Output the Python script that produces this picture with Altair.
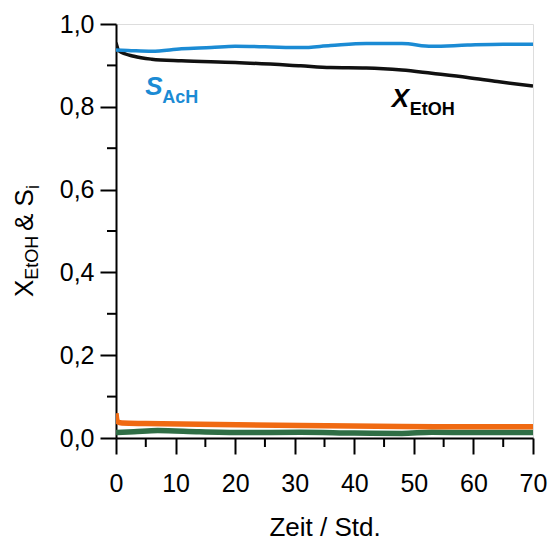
import altair as alt
import pandas as pd

# ---- data ----
t_ach = [0, 2, 6, 11, 16, 20, 25, 31, 36, 42, 48, 53, 59, 65, 70]
s_ach = [0.937, 0.936, 0.934, 0.940, 0.943, 0.946, 0.945, 0.943, 0.948, 0.953, 0.953, 0.946, 0.949, 0.951, 0.951]

t_etoh = [0, 0.5, 3, 6, 11, 20, 31, 36, 42, 48, 53, 59, 64, 70]
x_etoh = [0.955, 0.935, 0.922, 0.915, 0.911, 0.907, 0.899, 0.895, 0.894, 0.889, 0.881, 0.871, 0.861, 0.850]

t_or = [0, 0.2, 1, 5, 14, 31, 48, 60, 70]
s_or = [0.06, 0.04, 0.036, 0.035, 0.033, 0.030, 0.028, 0.027, 0.027]

t_gr = [0, 3, 7, 14, 22, 31, 40, 48, 53, 60, 70]
s_gr = [0.013, 0.015, 0.018, 0.015, 0.013, 0.014, 0.012, 0.011, 0.014, 0.013, 0.013]

x_major = [0, 10, 20, 30, 40, 50, 60, 70]
x_minor = [5, 15, 25, 35, 45, 55, 65]
y_major = [0.0, 0.2, 0.4, 0.6, 0.8, 1.0]
y_minor = [0.1, 0.3, 0.5, 0.7, 0.9]

FONT = "Liberation Sans"
xs = alt.Scale(domain=[0, 70], nice=False, zero=False)
ys = alt.Scale(domain=[0, 1.0], nice=False)

x_axis_major = alt.Axis(
    values=x_major, orient="bottom", title="Zeit / Std.", titleFontSize=26,
    titleFontWeight="normal", titleFont=FONT, titleColor="black", titlePadding=18,
    labelFontSize=25, labelFont=FONT, labelColor="black", labelPadding=17,
    tickSize=16, tickWidth=2, tickColor="black", domainColor="black", domainWidth=2,
    grid=False, labelFlush=False,
)
y_axis_major = alt.Axis(
    values=y_major, orient="left", title=None, format=".1f",
    labelExpr="replace(datum.label, '.', ',')",
    labelFontSize=25, labelFont=FONT, labelColor="black", labelPadding=6,
    tickSize=16, tickWidth=2, tickColor="black", domainColor="black", domainWidth=2,
    grid=False, labelFlush=False,
)


def series_layer(t, v, color, width):
    df = pd.DataFrame({"t": t, "v": v})
    return alt.Chart(df).mark_line(
        interpolate="monotone", color=color, strokeWidth=width, clip=True
    ).encode(
        x=alt.X("t:Q", scale=xs, axis=x_axis_major),
        y=alt.Y("v:Q", scale=ys, axis=y_axis_major),
    )


green = series_layer(t_gr, s_gr, "#2f6e45", 5.5)
orange = series_layer(t_or, s_or, "#f06a12", 5.5)
black = series_layer(t_etoh, x_etoh, "#111111", 3.5)
blue = series_layer(t_ach, s_ach, "#1b8bd4", 3.5)

# minor ticks
xminor = alt.Chart(pd.DataFrame({"t": x_minor})).mark_rule(
    color="black", strokeWidth=2, clip=False
).encode(
    x=alt.X("t:Q", scale=xs, axis=x_axis_major), y=alt.value(414), y2=alt.value(423)
)
yminor = alt.Chart(pd.DataFrame({"v": y_minor})).mark_rule(
    color="black", strokeWidth=2, clip=False
).encode(
    y=alt.Y("v:Q", scale=ys, axis=y_axis_major), x=alt.value(0), x2=alt.value(-9)
)

one = pd.DataFrame({"a": [0]})


def label(text, x, y, size, color, dx=0, dy=0, italic=False, bold=False):
    return alt.Chart(one).mark_text(
        text=text, font=FONT, fontSize=size, color=color, align="left",
        baseline="alphabetic", dx=dx, dy=dy,
        fontStyle="italic" if italic else "normal",
        fontWeight="bold" if bold else "normal",
    ).encode(
        x=alt.X("t:Q", scale=xs, axis=x_axis_major),
        y=alt.Y("v:Q", scale=ys, axis=y_axis_major),
    ).transform_calculate(t=str(x), v=str(y))


lab_s = label("S", 4.9, 0.828, 26, "#1b8bd4", italic=True, bold=True)
lab_ach = label("AcH", 4.9, 0.828, 18, "#1b8bd4", dx=17, dy=8, bold=True)
lab_x = label("X", 46.3, 0.80, 26, "black", italic=True, bold=True)
lab_etoh = label("EtOH", 46.3, 0.80, 18, "black", dx=18, dy=8, bold=True)


def ytitle(text, px, py, size):
    return alt.Chart(one).mark_text(
        text=text, font=FONT, fontSize=size, color="black", align="left",
        baseline="alphabetic", angle=270,
    ).encode(x=alt.value(px), y=alt.value(py))


yt1 = ytitle("X", -83, 273, 26)
yt2 = ytitle("EtOH", -78, 255.7, 18)
yt3 = ytitle("& S", -83, 207, 26)
yt4 = ytitle("i", -77, 165, 18)

chart = alt.layer(
    green, orange, black, blue, xminor, yminor,
    lab_s, lab_ach, lab_x, lab_etoh, yt1, yt2, yt3, yt4
).properties(
    width=417, height=414,
    autosize=alt.AutoSizeParams(type="none"),
    padding={"left": 116, "top": 24, "right": 18, "bottom": 106},
).configure_view(
    stroke="#444444", strokeWidth=1.5
).configure(background="white")

chart.save("out.html", embed_options={"renderer": "svg", "actions": False})
